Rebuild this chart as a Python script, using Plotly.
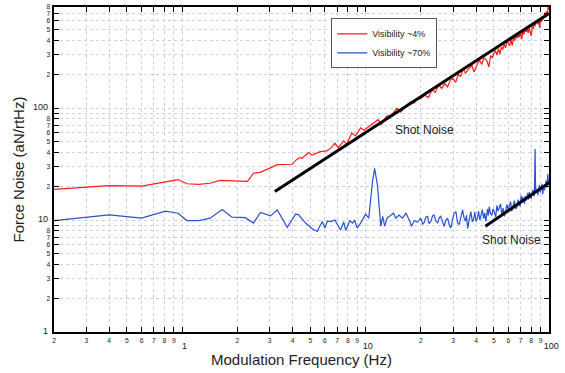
import plotly.graph_objects as go

# Visibility ~4% (red)
red_f = [0.2, 0.4, 0.6, 0.95, 1.06, 1.23, 1.42, 1.61, 2.27, 2.45, 2.67, 3.30, 3.97, 4.2, 4.42, 4.5, 4.9,
         5.1, 5.66, 6.14, 6.5, 6.8, 7.1, 7.6, 7.9, 8.4, 8.8, 9.4, 9.8, 10.5, 11.2, 11.7, 12.2, 13.0, 13.9,
         14.8, 15.5, 16.5, 17.6, 18.4,
         19, 20, 21, 22, 23, 24, 25, 26, 27, 28, 29, 30, 31, 32, 33, 34, 35, 36, 37, 38, 39, 40,
         41, 42, 43, 44, 45, 46, 47, 48, 49, 50, 51, 52, 53, 54, 55, 56, 57, 58, 59, 60,
         61, 62, 63, 64, 65, 66, 67, 68, 69, 70, 71, 72, 73, 74, 75, 76, 77, 78, 79, 80,
         81, 82, 83, 84, 85, 86, 87, 88, 89, 90, 91, 92, 93, 94, 95, 96, 97, 98, 99, 100, 101]
red_v = [18.8, 20.3, 20.1, 23.0, 21.1, 20.8, 21.3, 22.6, 22.2, 26.2, 26.7, 31.2, 31.5, 34.6, 36.3, 35.6, 40.0,
         38.0, 40.8, 41.4, 44.3, 48.5, 44.3, 50.9, 47.5, 60.0, 56.5, 66.6, 63.5, 69.0, 74.0, 78.8, 71.4, 84.6, 87.0,
         100.0, 92.0, 103.0, 114.0, 111.0,
         120, 122, 130, 124, 145, 138, 161, 150, 166, 155, 178, 184, 170, 200, 192, 225, 205, 218, 232, 240, 210, 235,
         255, 266, 245, 280, 275, 262, 233, 295, 280, 310, 327, 298, 340, 305, 350, 335, 372, 345, 400, 380,
         360, 410, 361, 425, 400, 443, 420, 455, 430, 470, 413, 480, 455, 500, 480, 506, 470, 520, 490, 443,
         535, 510, 560, 540, 590, 608, 560, 600, 520, 620, 590, 660, 620, 690, 712, 650, 730, 700, 800, 760, 790]

# Visibility ~70% (blue)
blue_f = [0.2, 0.4, 0.6, 0.81, 0.95, 1.06, 1.23, 1.42, 1.65, 1.87, 2.21, 2.45, 2.67, 3.03, 3.30, 3.74, 4.15,
          4.3, 4.71, 5.12, 5.45, 5.8, 6.0, 6.2, 6.45, 6.8, 7.3, 7.6, 7.8, 8.2, 8.5, 8.7, 9.0, 9.4, 10.0, 10.4,
          10.9, 11.2, 11.6, 12.1, 12.4, 12.7, 13.1, 13.7, 14.2, 14.6, 15.2, 15.9, 16.6, 17.3, 17.8, 18.4,
          19.2, 20.0, 20.5, 20.8, 21.3, 21.8, 22.2, 22.7, 23.2, 23.6, 24.2, 24.7, 25.2, 25.7, 26.3, 26.8,
          27.4, 28.0, 28.6, 29.2, 29.8, 30.4, 31.1, 31.7, 32.4, 33.1, 33.8, 34.4, 35.0, 35.5, 36.0, 36.7,
          37.5, 38.2, 38.8, 39.4, 40.0, 40.7, 41.3, 42.0, 42.6, 43.3, 44.0, 44.6, 45.3, 45.8, 46.2, 46.7,
          47.2, 48.0, 48.8, 49.5, 50.3, 51.2, 52.0, 52.8, 53.6, 54.4, 55.3, 56.2, 57.1, 58.0, 59.0, 59.9,
          60.8, 61.7, 62.7, 63.7, 64.7, 65.7, 66.8, 67.8, 68.9, 69.6, 70.4, 71.1, 71.9, 72.7, 73.5, 74.2,
          75.0, 75.8, 76.6, 77.4, 78.2, 79.1, 80.1, 81.0, 82.0, 82.7, 83.2, 83.6, 84.0, 84.4, 84.8, 85.8,
          86.9, 87.8, 88.7, 89.6, 90.6, 91.5, 92.5, 93.4, 94.4, 95.4, 96.4, 97.4, 98.5, 99.3, 100.0]
blue_v = [9.9, 11.1, 10.4, 12.0, 11.5, 9.9, 9.9, 10.4, 12.4, 10.6, 10.5, 9.4, 11.7, 10.9, 12.3, 8.6, 11.3,
          11.2, 9.4, 8.35, 7.9, 9.7, 8.5, 9.8, 9.7, 10.0, 8.15, 9.6, 8.1, 9.85, 9.4, 10.0, 8.5, 9.4, 11.3, 10.4,
          21.8, 29.0, 20.5, 8.8, 10.8, 8.8, 10.4, 11.1, 11.5, 10.4, 11.1, 10.4, 11.5, 10.0, 8.8, 9.85,
          9.6, 10.4, 9.2, 9.4, 10.6, 10.8, 9.3, 9.7, 10.9, 11.1, 9.8, 9.4, 10.5, 10.8, 9.6, 8.8,
          10.0, 10.4, 9.0, 8.5, 10.2, 11.5, 11.9, 9.5, 9.1, 10.8, 12.3, 10.5, 9.8, 11.0, 8.4, 10.0,
          11.9, 9.6, 10.2, 11.8, 9.7, 10.4, 12.0, 10.0, 11.1, 12.4, 10.3, 11.6, 9.7, 11.0, 12.5, 11.0,
          13.1, 11.4, 11.0, 12.6, 11.9, 10.6, 13.5, 12.0, 12.7, 13.9, 11.2, 12.8, 10.8, 12.4, 13.8, 12.2,
          13.1, 14.6, 12.0, 13.6, 14.9, 12.6, 13.0, 15.2, 14.1, 13.2, 16.5, 14.2, 16.1, 15.0, 14.0, 16.4,
          14.9, 16.0, 17.5, 15.3, 17.8, 16.2, 15.5, 17.9, 18.5, 16.3, 16.8, 25.0, 43.0, 22.0, 17.5, 19.0,
          16.7, 18.9, 20.5, 17.6, 19.1, 21.0, 17.0, 20.2, 18.5, 21.5, 22.5, 19.5, 25.8, 21.5, 20.4]

# Shot-noise reference lines
shot_red_f = [3.2, 100.0]
shot_red_v = [18.0, 700.0]
shot_blue_f = [45.0, 102.0]
shot_blue_v = [8.8, 22.0]

fig = go.Figure()
fig.add_trace(go.Scatter(x=red_f, y=red_v, mode="lines", name="Visibility ~4%",
                         line=dict(color="#ff1a1a", width=1.2)))
fig.add_trace(go.Scatter(x=blue_f, y=blue_v, mode="lines", name="Visibility ~70%",
                         line=dict(color="#2a52d0", width=1.2)))
fig.add_trace(go.Scatter(x=shot_red_f, y=shot_red_v, mode="lines", showlegend=False,
                         line=dict(color="black", width=3)))
fig.add_trace(go.Scatter(x=shot_blue_f, y=shot_blue_v, mode="lines", showlegend=False,
                         line=dict(color="black", width=3)))

fig.add_annotation(x=1.323, y=1.806, xref="x", yref="y", text="Shot Noise", showarrow=False,
                   font=dict(family="Liberation Sans, Arial", size=12, color="#222"))
fig.add_annotation(x=1.798, y=0.82, xref="x", yref="y", text="Shot Noise", showarrow=False,
                   font=dict(family="Liberation Sans, Arial", size=12, color="#222"))

axis_common = dict(type="log", dtick="D1", ticks="inside", ticklen=5, tickwidth=1, tickcolor="black",
                   showline=True, linecolor="black", linewidth=2, mirror="ticks",
                   showgrid=True, gridcolor="#cfd0f0", griddash="dot", gridwidth=1,
                   zeroline=False, tickfont=dict(size=9, color="#222",
                                                 family="Liberation Sans, Arial"))

fig.update_layout(
    width=565, height=373,
    margin=dict(l=54, r=16, t=3, b=41),
    paper_bgcolor="white", plot_bgcolor="white",
    font=dict(family="Liberation Sans, Arial", color="#222"),
    xaxis=dict(axis_common, range=[-0.69897, 2],
               title=dict(text="Modulation Frequency (Hz)", font=dict(size=15), standoff=2)),
    yaxis=dict(axis_common, range=[0, 2.903], labelalias={"9": ""},
               title=dict(text="Force Noise (aN/rtHz)", font=dict(size=15), standoff=5)),
    legend=dict(x=0.56, y=0.965, xanchor="left", yanchor="top", bgcolor="white",
                bordercolor="#555", borderwidth=1, font=dict(size=9),
                tracegroupgap=0, itemwidth=30),
    showlegend=True,
)

fig.write_html("out.html", config={"displayModeBar": False},
               post_script="document.body.style.margin='0';")
